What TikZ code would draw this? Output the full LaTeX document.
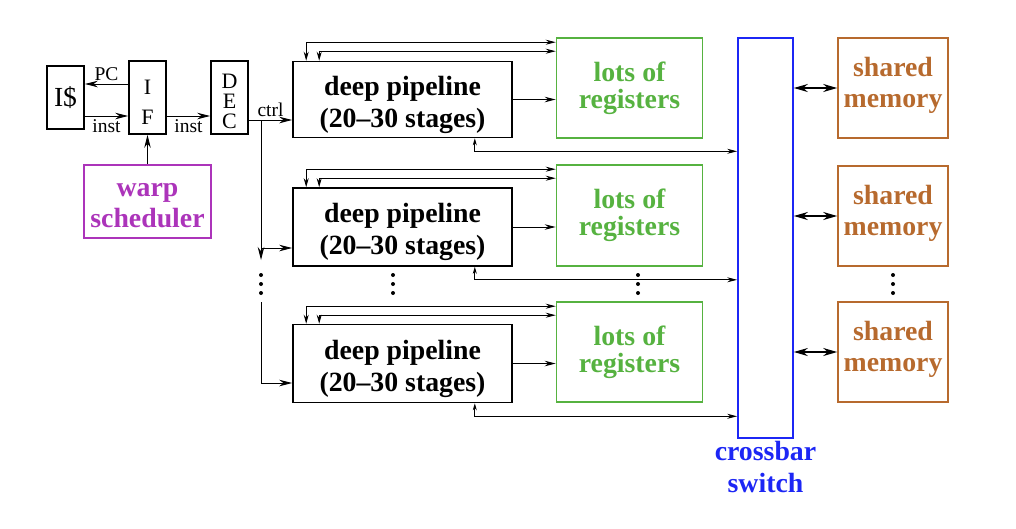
\documentclass[tikz,border=0pt]{standalone}
\usepackage{fontspec}
\setmainfont{Liberation Serif}
\usetikzlibrary{arrows.meta}

\definecolor{regGreen}{RGB}{86,178,64}
\definecolor{warpMag}{RGB}{172,52,186}
\definecolor{xbarBlue}{RGB}{28,38,245}
\definecolor{memBrown}{RGB}{183,106,46}

\begin{document}
\begin{tikzpicture}[x=1pt,y=-1pt,
    unit/.style={draw, line width=1.6pt, align=center, inner sep=0pt},
    bigtext/.style={align=center, inner sep=0pt, font=\bfseries\fontsize{27.8}{32}\selectfont},
    pipe/.style={unit, minimum width=219pt,
        label={[bigtext, yshift=-5pt]center:{deep pipeline\\(20--30 stages)}}},
    regs/.style={unit, draw=regGreen, minimum width=146pt,
        label={[bigtext, text=regGreen, font=\bfseries\fontsize{27.8}{27}\selectfont]center:{lots of\\registers}}},
    mem/.style={unit, draw=memBrown, minimum width=110pt, minimum height=100pt,
        label={[bigtext, text=memBrown, yshift=3pt, font=\bfseries\fontsize{27.8}{31}\selectfont]center:{shared\\memory}}},
    lbl/.style={font=\fontsize{19.5}{22}\selectfont},
    arr/.style={-{Stealth[length=13pt,width=6.5pt]}, line width=0.9pt},
    rarr/.style={-{Stealth[length=11pt,width=5.5pt]}, line width=0.9pt},
    arrs/.style={{Stealth[length=9pt,width=5pt]}-{Stealth[length=10pt,width=5pt]}, line width=0.9pt},
    biarr/.style={{Stealth[length=14pt,width=8pt]}-{Stealth[length=14pt,width=8pt]}, line width=1.5pt}]
    \useasboundingbox (0,0) rectangle (1016,528);

    % front end
    \node [unit, minimum width=37pt, minimum height=63pt, font=\fontsize{27.6}{30}\selectfont] (icache) at (65.5,97.5) {I\$};
    \node [unit, minimum width=37pt, minimum height=73pt,
        label={[lbl, yshift=-5pt, font=\fontsize{22}{30}\selectfont, align=center]center:{I\\F}}] (if) at (147.5,97.5) {};
    \node [unit, minimum width=37pt, minimum height=73pt,
        label={[lbl, yshift=-4pt, font=\fontsize{22}{20}\selectfont, align=center]center:{D\\E\\C}}] (dec) at (229.5,97.5) {};
    \node [unit, draw=warpMag, minimum width=127pt, minimum height=73pt,
        label={[bigtext, text=warpMag, yshift=-4pt, font=\bfseries\fontsize{27.8}{31}\selectfont]center:{warp\\scheduler}}] (warp) at (147.5,201.5) {};

    \draw [arr] ([yshift=13.5pt]if.west) -- node [lbl, above] {PC} ([yshift=13.5pt]icache.east);
    \draw [arr] ([yshift=-18.5pt]icache.east) -- node [lbl, below] {inst} ([yshift=-18.5pt]if.west);
    \draw [arr] ([yshift=-18.5pt]if.east) -- node [lbl, below] {inst} ([yshift=-18.5pt]dec.west);
    \draw [arr] (warp.north) -- (if.south);

    % pipelines, registers, memories
    \node [pipe, minimum height=76pt] (p1) at (402.5,99.5) {};
    \node [pipe, minimum height=78pt] (p2) at (402.5,227) {};
    \node [pipe, minimum height=78pt] (p3) at (402.5,363.5) {};

    \node [regs, minimum height=100pt] (r1) at (629.5,88) {};
    \node [regs, minimum height=101pt] (r2) at (629.5,215.5) {};
    \node [regs, minimum height=100pt] (r3) at (629.5,352) {};

    \node [unit, draw=xbarBlue, minimum width=55pt, minimum height=400pt] (xbar) at (765.5,238) {};
    \node [bigtext, text=xbarBlue, anchor=north] (xlabel) at (765.5,441) {crossbar\\switch};

    \node [mem] (m1) at (893,88) {};
    \node [mem] (m2) at (893,216) {};
    \node [mem] (m3) at (893,352) {};

    % control lines
    \coordinate (c1) at (261,120);
    \coordinate (c2) at (261,248);
    \coordinate (c3) at (261,383);
    \coordinate (c4) at (261,302);
    \draw [arr] (dec.east |- c1) -- node [lbl, above] {ctrl} (p1.west |- c1);
    \draw [line width=0.9pt] (c1) -- (c2);
    \draw [arr] (c2) -- (p2.west |- c2);
    \draw [arr] (c2) -- ++(0,12);
    \draw [arr] (c4) |- (p3.west |- c3);

    \foreach \i in {1,2,3} {
        \draw [arrs] ([xshift=14pt]p\i.north west) |- ([yshift=-5pt]r\i.north west);
        \draw [arrs] ([xshift=27pt]p\i.north west) |- ([yshift=-14pt]r\i.north west);
        \draw [rarr] (p\i.east) -- (p\i.east -| r\i.west);
        \draw [{Stealth[length=7pt,width=4pt]}-{Stealth[length=10pt,width=5pt]}, line width=0.9pt]
            ([xshift=-38pt]p\i.south east) -- ++(0,13) coordinate (t\i) -- (t\i -| xbar.west);
        \draw [biarr] (m\i.west -| xbar.east) -- (m\i.west);
    }

    % dots
    \foreach \x in {261,393,638,893}
        \foreach \d in {0,9,18}
            \fill (\x,275+\d) circle (2pt);
\end{tikzpicture}
\end{document}
